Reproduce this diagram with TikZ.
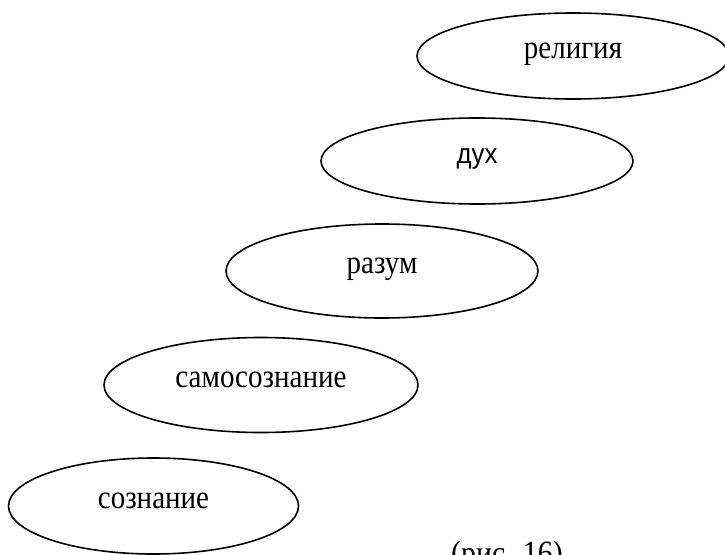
\documentclass[tikz,border=0pt]{standalone}
\usepackage{fontspec}
\setmainfont{Liberation Serif}[FakeStretch=0.88]
\newfontfamily\arialfont{Liberation Sans}[FakeStretch=0.92]
\usetikzlibrary{shapes.geometric}
\tikzset{
  oval/.style={draw=black, line width=1.6pt, ellipse, inner sep=0pt,
    text height=0.45em, text depth=0pt,
    font=\fontsize{33}{38}\selectfont},
}
\begin{document}
\begin{tikzpicture}[x=1pt,y=-1pt]
\useasboundingbox (0,0) rectangle (725,554);
\clip (0,0) rectangle (725,554);
\fill[white] (0,0) rectangle (725,554);
\node[oval, minimum width=312pt, minimum height=86pt] (rel) at (573,56) {религия};
\node[oval, minimum width=312pt, minimum height=86pt, font=\arialfont\fontsize{28}{33}\selectfont, text height=0.52em] (dukh) at (477,161) {дух};
\node[oval, minimum width=312pt, minimum height=94pt] (razum) at (382,271) {разум};
\node[oval, minimum width=314pt, minimum height=95pt] (samo) at (261,385) {самосознание};
\node[oval, minimum width=290pt, minimum height=96pt] (soz) at (153.5,506) {сознание};
\node[anchor=base west, inner sep=0pt, font=\fontsize{34}{40}\selectfont] (cap) at (451,564) {(рис. 16)};
\end{tikzpicture}
\end{document}
